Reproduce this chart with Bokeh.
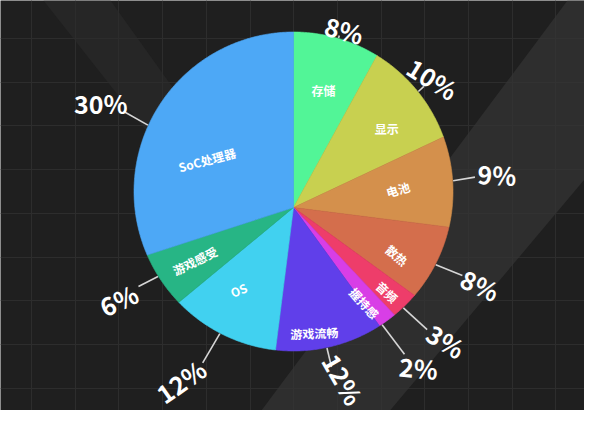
import numpy as np
from bokeh.plotting import figure
from bokeh.models import Range1d, ColumnDataSource, FixedTicker, Grid
from bokeh.core.properties import value
from bokeh.embed import file_html
from bokeh.resources import INLINE

# ---------------- data ----------------
categories = ["存储", "显示", "电池", "散热", "音频", "握持感", "游戏流畅", "OS", "游戏感受", "SoC处理器"]
shares = [8, 10, 9, 8, 3, 2, 12, 12, 6, 30]
pct_labels = ["8%", "10%", "9%", "8%", "3%", "2%", "12%", "12%", "6%", "30%"]

# ---------------- styles / layout ----------------
colors = ["#52F597", "#C8D050", "#D4904C", "#D46E4C", "#EE3D6A",
          "#D83EE6", "#603FEA", "#41D1F0", "#27B585", "#4DA8F6"]

# inner label placement (distance from apex, angle tweak, rotation deg)
inner_dist = [121, 122, 106, 114, 126, 119, 127, 99, 112, 99]
inner_adj = [0, 3, -1, 3, 0.5, 3, 5, 5, 0.5, -7]
inner_rot = [0, 0, 16, -40, -43, -48, 2, 23, 26, 15]

# outer label placement
outer_adj = [0.5, 0.3, -0.5, 0.3, 1, 2.5, 1, 1.5, 1.8, -6.5]
lead_end = [178, 178, 184, 182, 181, 184, 164, 180, 174, 195]
label_dx = [5, 9, 22, 18, 19, 14, 12, -22, -20, -23]
label_dy = [-6, -8, -3, 9, 11, 13, 12, 18, 13, -8]
outer_rot = [-15, -32, -3, -25, -32, -5, -60, 35, 25, 0]

W, H = 584, 410          # figure size (window minus margins)
REF_H = 426              # reference picture height
APEX = (293.0, 207.0)    # reference pixel coords
RIM_C = (293.0, 191.0)
RIM_R = 159.5
FONT = "Noto Sans CJK SC"


def Y(py):
    return REF_H - py


def rim_dist(theta):
    """distance from apex to rim along direction theta (clockwise from up)"""
    ax, ay = APEX[0] - RIM_C[0], APEX[1] - RIM_C[1]
    dx, dy = np.sin(theta), -np.cos(theta)
    b = ax * dx + ay * dy
    return -b + np.sqrt(b * b - (ax * ax + ay * ay) + RIM_R ** 2)


def point(theta, dist):
    return APEX[0] + dist * np.sin(theta), Y(APEX[1]) + dist * np.cos(theta)


total = float(sum(shares))
cum = np.concatenate([[0], np.cumsum(shares)]) / total * 2 * np.pi
starts, ends = cum[:-1], cum[1:]
mids = (starts + ends) / 2

p = figure(width=W, height=H,
           x_range=Range1d(0, W), y_range=Range1d(Y(H), Y(0)),
           x_axis_type=None, y_axis_type=None,
           output_backend="svg", toolbar_location=None, min_border=0,
           background_fill_color="#1f1f1f", border_fill_color="#1f1f1f",
           outline_line_color=None)

# background grid
gx = [31 + 43.7 * k for k in range(14)]
gy = [Y(38 + 43.7 * k) for k in range(10)]
p.add_layout(Grid(dimension=0, ticker=FixedTicker(ticks=gx),
                  grid_line_color="#2d2d2d", grid_line_width=1))
p.add_layout(Grid(dimension=1, ticker=FixedTicker(ticks=gy),
                  grid_line_color="#2d2d2d", grid_line_width=1))

# background X bands
band_r = [(567, 0), (600, 0), (600, 160), (376, 426), (249, 426)]
band_l = [(43, 0), (110, 0), (258, 207), (206, 207)]
p.patch([q[0] for q in band_r], [Y(q[1]) for q in band_r],
        fill_color="#343434", fill_alpha=0.7, line_color=None)
p.patch([q[0] for q in band_l], [Y(q[1]) for q in band_l],
        fill_color="#2c2c2c", fill_alpha=0.6, line_color=None)

# slices
xs_all, ys_all = [], []
for s, e in zip(starts, ends):
    n = max(4, int(np.degrees(e - s) * 2))
    th = np.linspace(s, e, n)
    d = rim_dist(th)
    px, py = point(th, d)
    xs_all.append([APEX[0]] + list(px))
    ys_all.append([Y(APEX[1])] + list(py))
src = ColumnDataSource(dict(xs=xs_all, ys=ys_all, color=colors, cat=categories))
p.patches("xs", "ys", source=src, fill_color="color", line_color="color",
          line_width=0.6)

# leader lines
lx0, ly0, lx1, ly1 = [], [], [], []
for i, m in enumerate(mids):
    th = m + np.radians(outer_adj[i])
    a = point(th, rim_dist(th) + 0.5)
    b = point(th, max(lead_end[i], rim_dist(th) + 3))
    lx0.append(a[0]); ly0.append(a[1]); lx1.append(b[0]); ly1.append(b[1])
p.segment(lx0, ly0, lx1, ly1, line_color="#d6d6d6", line_width=1.6)

# outer percentage labels
ox = [lx1[i] + label_dx[i] for i in range(len(shares))]
oy = [ly1[i] - label_dy[i] for i in range(len(shares))]
p.text(ox, oy, text=pct_labels, angle=outer_rot, angle_units="deg",
       text_font=value(FONT), text_font_style="bold", text_font_size="25px",
       text_color="#ffffff", text_align="center", text_baseline="middle")

# inner category labels
ix, iy = [], []
for i, m in enumerate(mids):
    q = point(m + np.radians(inner_adj[i]), inner_dist[i])
    ix.append(q[0]); iy.append(q[1])
p.text(ix, iy, text=categories, angle=inner_rot, angle_units="deg",
       text_font=value(FONT), text_font_style="bold", text_font_size="12px",
       text_color="#ffffff", text_align="center", text_baseline="middle")

open("out.html", "w").write(file_html(p, INLINE))
